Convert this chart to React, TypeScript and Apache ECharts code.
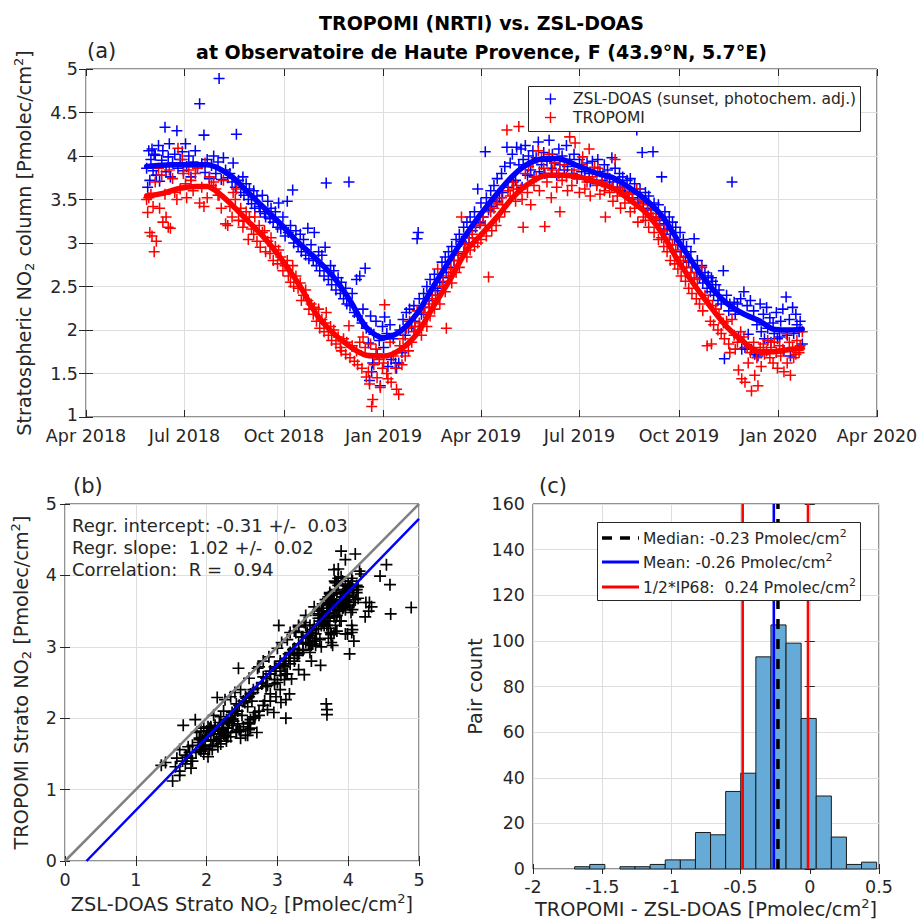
import React, { useEffect, useRef } from 'react';
import * as echarts from 'echarts';

// ---------- Data: collocated daily pairs [day since 2018-04-01, ZSL-DOAS, TROPOMI] ----------
const summer2018 = [
  [56,3.86,3.50],[57,3.64,3.35],[58,4.06,3.52],[59,3.72,3.12],[60,3.96,3.56],[61,4.08,3.08],[62,3.83,3.42],[63,4.02,2.90],
  [64,4.01,3.70],[65,3.78,3.02],[67,4.12,3.86],[68,3.71,3.40],[70,3.95,3.78],[71,4.06,3.24],[73,4.33,3.56],[74,3.82,3.30],
  [76,3.99,3.18],[77,4.14,3.84],[78,3.76,3.17],[80,3.92,3.74],[82,4.02,3.58],[84,4.29,3.50],[85,3.86,4.09],[87,3.96,3.62],
  [89,4.05,3.96],[90,3.83,3.80],[92,4.14,3.68],[93,3.88,3.52],[95,4.00,3.84],[97,3.76,3.72],[99,3.93,3.60],[101,4.06,3.80],
  [103,3.86,3.86],[105,4.60,3.46],[107,3.91,3.64],[109,4.24,3.42],[110,3.81,3.92],[112,3.96,3.52],[114,3.74,3.76],[116,3.89,3.66],
  [118,4.00,3.70],[120,3.80,3.62],[122,3.93,3.55],[123,4.89,3.55],[125,3.73,3.40],[127,3.98,3.72],[129,3.84,3.22],[131,3.75,3.20],
];
const autumn2018 = [
  [133,3.80,3.42],[135,3.70,3.30],[136,3.92,3.58],[138,3.64,3.50],[139,4.25,3.62],[141,3.72,3.26],[143,3.58,3.40],[145,3.76,3.18],
  [146,3.55,3.25],[148,3.68,3.36],[150,3.50,3.04],[151,3.62,3.30],[153,3.45,3.16],[155,3.60,3.10],[156,3.40,3.30],[158,3.54,3.02],
  [160,3.42,3.20],[161,3.36,2.95],[163,3.55,3.12],[165,3.34,3.14],[166,3.30,2.90],[168,3.48,3.02],[170,3.28,2.88],[171,3.40,3.06],
  [173,3.24,2.80],[175,3.36,2.96],[177,3.18,2.76],[178,3.46,2.92],[180,3.16,2.84],[182,3.30,2.68],[184,3.08,2.74],[186,3.48,2.80],
  [187,3.12,2.62],[189,3.20,2.55],[191,3.61,2.74],[192,3.00,2.50],[194,3.14,2.62],[196,2.96,2.48],[198,3.10,2.54],[199,2.90,2.34],
  [201,3.04,2.40],[203,2.86,2.46],[205,3.17,2.34],[206,2.82,2.24],[208,2.98,2.30],[210,2.80,2.18],[211,3.12,2.26],[213,2.74,2.10],
  [215,2.90,2.24],[216,2.68,2.02],[218,2.86,2.12],[220,2.62,1.98],[221,2.95,2.08],[222,3.69,2.20],[224,2.58,1.94],[226,2.74,2.04],
  [227,2.52,1.88],[229,2.68,2.00],[231,2.46,1.84],[233,2.60,1.92],[235,2.42,1.80],[236,2.55,1.76],[238,2.36,1.90],[240,2.48,1.72],
  [241,2.30,1.86],[243,3.70,2.05],[244,2.28,1.68],[246,2.42,1.82],[248,2.20,1.64],[250,2.58,1.76],[251,2.16,1.60],[253,2.62,1.86],
  [255,2.08,1.56],[256,2.24,1.92],[258,2.71,1.80],[259,2.02,1.46],
];
const winter2019 = [
  [261,1.85,1.52],[262,1.42,1.38],[263,2.16,1.84],[264,1.52,1.12],[265,1.62,1.20],[266,1.95,1.60],[268,2.10,1.78],[269,1.72,1.45],
  [271,1.88,1.66],[272,1.36,1.34],[274,2.04,1.56],[275,1.80,1.62],[276,2.15,2.29],[278,1.96,1.50],[279,1.58,1.44],[281,2.06,1.86],
  [282,1.66,1.40],[284,1.90,1.70],[286,1.62,1.56],[287,1.56,1.32],[289,1.62,1.26],[290,2.00,1.82],[292,1.74,1.60],[293,2.12,1.90],
  [295,1.94,1.70],[296,2.20,2.02],[298,2.02,1.76],[299,2.24,2.10],
];
const spring2019 = [
  [301,2.04,1.86],[303,2.28,1.98],[304,2.10,2.04],[306,3.05,2.22],[307,3.12,2.00],[308,2.36,2.08],[310,2.18,1.94],[312,2.42,2.20],
  [313,2.26,2.26],[315,2.50,2.04],[317,2.34,2.30],[318,2.58,2.16],[320,2.40,2.36],[322,2.64,2.24],[323,2.48,2.40],[325,2.45,2.70],
  [327,2.55,2.30],[329,2.78,2.50],[330,2.60,2.56],[332,2.84,2.44],[333,2.66,2.02],[335,2.90,2.62],[337,2.72,2.70],[338,2.96,2.54],
  [340,2.80,2.80],[342,3.04,2.66],[344,2.88,2.86],[345,3.10,2.72],[347,3.02,3.30],[349,3.18,2.90],[350,3.00,2.98],[352,3.24,2.84],
  [354,3.06,3.06],[355,3.30,2.92],[357,3.14,3.10],[359,3.36,2.96],[360,3.18,3.20],[362,3.62,3.00],[364,3.24,3.22],[365,3.46,3.04],
  [367,3.30,3.30],[369,4.05,3.20],[370,3.52,3.08],[372,3.38,2.61],[374,3.60,3.36],[375,3.42,3.14],[377,3.66,3.40],[379,3.48,3.20],
  [380,3.74,3.46],[382,3.52,3.30],[384,3.80,3.52],[385,3.58,3.44],[387,3.88,3.36],[389,4.10,4.30],[390,3.64,3.60],[392,3.92,3.54],
  [394,4.02,3.70],[395,3.70,3.62],
];
const summer2019 = [
  [397,3.72,3.48],[398,4.10,3.66],[400,3.90,4.34],[402,4.08,3.62],[403,3.64,3.50],[404,3.96,3.18],[406,4.12,3.80],[408,3.78,3.58],
  [409,4.00,3.88],[411,3.84,3.44],[413,4.06,3.92],[414,3.76,3.66],[416,3.98,3.76],[418,4.16,4.06],[419,3.82,3.60],[421,3.90,3.98],
  [423,4.04,3.86],[424,3.80,3.19],[426,3.94,3.70],[428,4.18,4.02],[430,3.86,3.52],[431,4.02,3.84],[433,3.92,3.92],[435,3.78,3.64],
  [437,4.08,3.80],[438,3.90,3.36],[440,4.00,3.72],[442,3.84,3.90],[444,4.12,3.76],[445,3.88,3.60],[447,3.96,4.22],[449,3.80,3.66],
  [451,4.02,3.84],[452,4.54,4.15],[454,3.74,3.74],[456,3.96,3.58],[458,3.82,3.90],[459,4.45,3.99],[461,3.76,3.62],[463,3.92,3.70],
  [465,3.80,4.08],[466,3.70,3.54],[468,3.94,3.76],[470,4.59,3.87],[472,3.68,3.66],[473,3.96,3.86],[475,3.82,3.56],[477,3.72,3.70],
  [479,3.90,3.60],[480,3.66,3.30],[482,3.84,3.76],[484,3.74,3.58],[486,3.98,3.64],[487,3.70,3.48],[489,3.86,3.96],[491,3.64,3.54],
  [493,3.80,3.62],[494,3.60,3.40],[496,3.76,3.64],[498,3.58,3.46],[500,3.72,3.58],
];
const autumn2019 = [
  [502,3.58,3.52],[503,3.74,3.36],[505,3.52,3.56],[507,3.68,3.40],[509,4.30,3.62],[510,3.50,3.24],[512,3.62,3.50],[514,4.04,3.48],
  [515,3.46,3.30],[517,3.58,3.26],[519,3.40,3.44],[520,3.54,3.18],[522,3.38,3.34],[524,4.05,3.30],[525,3.46,3.12],[527,3.30,3.28],
  [529,3.44,3.04],[530,3.26,3.20],[532,3.76,3.06],[534,3.22,2.96],[535,3.36,3.14],[537,3.16,2.90],[539,3.30,3.04],[540,3.10,2.80],
  [542,3.24,2.98],[544,3.04,2.76],[545,3.18,2.92],[547,2.98,2.70],[549,3.12,2.84],[550,2.90,2.62],[552,3.04,2.80],[554,2.84,2.56],
  [555,2.96,2.72],[557,2.78,2.48],[559,2.90,2.66],[560,2.72,2.42],[562,3.05,2.60],[564,2.66,2.36],[565,2.80,2.58],[567,2.60,2.30],
  [569,2.74,2.72],[570,2.54,2.22],[572,2.66,2.40],[574,2.48,1.82],[575,2.62,2.34],[577,2.44,2.10],[578,2.60,1.84],[579,2.56,2.28],
  [580,2.40,2.06],[582,2.52,2.24],[584,2.34,2.00],[585,2.46,2.18],[587,2.30,1.96],[589,2.68,2.08],[590,1.67,1.90],[592,2.40,2.10],
  [594,2.22,1.84],[595,2.30,1.74],[597,3.70,2.12],[599,2.32,1.94],[600,2.18,1.78],
];
const winter2020 = [
  [602,2.30,1.86],[603,1.92,1.54],[605,2.36,1.98],[606,1.78,1.44],[608,2.44,1.92],[609,1.80,1.40],[611,2.28,1.80],[612,1.95,1.62],
  [614,2.34,1.74],[615,1.78,1.30],[617,2.22,1.86],[618,1.72,1.48],[620,2.06,1.68],[621,1.70,1.36],[623,2.30,1.80],[624,1.98,1.58],
  [626,2.18,1.84],[627,1.90,1.72],[629,2.26,1.76],[630,2.02,1.88],[632,2.14,1.68],[633,1.86,1.80],[635,2.08,1.62],[636,1.96,1.86],
  [638,2.20,1.74],[639,1.90,1.56],[641,1.92,1.82],[642,2.10,1.70],[644,2.24,1.78],[645,1.76,1.52],[647,2.38,1.96],[648,1.94,1.62],
  [650,2.12,1.86],[651,1.70,1.48],[653,2.26,1.80],[654,1.96,1.68],[656,2.18,1.72],[657,2.06,1.88],[659,1.98,1.74],[660,2.10,1.82],
  [662,1.84,1.98],
];

// Running means [day, value]
const zslRunningMean = [
  [56,3.88],[80,3.90],[112,3.90],[133,3.78],[149,3.59],[164,3.41],[179,3.23],[195,3.02],[210,2.85],[228,2.62],[244,2.34],
  [259,2.03],[275,1.91],[290,1.98],[306,2.19],[321,2.50],[336,2.80],[352,3.11],[364,3.32],[380,3.57],[395,3.78],[410,3.92],
  [426,3.97],[435,3.97],[456,3.88],[472,3.80],[487,3.75],[503,3.63],[518,3.49],[533,3.30],[546,3.05],[561,2.77],[577,2.50],
  [592,2.31],[607,2.19],[623,2.10],[635,2.01],[647,2.00],[662,2.01],
];
const tropomiRunningMean = [
  [56,3.54],[71,3.57],[87,3.63],[102,3.65],[112,3.65],[121,3.59],[133,3.46],[149,3.26],[164,3.07],[179,2.84],[198,2.50],
  [213,2.18],[228,1.97],[244,1.81],[259,1.71],[275,1.70],[290,1.77],[306,1.96],[321,2.27],[336,2.57],[352,2.92],[364,3.08],
  [380,3.30],[395,3.53],[410,3.69],[426,3.78],[441,3.78],[456,3.76],[472,3.70],[487,3.63],[503,3.49],[518,3.34],[533,3.10],
  [546,2.82],[561,2.54],[577,2.27],[592,2.04],[607,1.87],[623,1.75],[635,1.75],[647,1.77],[662,1.79],
];

// Time axis ticks
const quarterDates = ['2018-04-01','2018-07-01','2018-10-01','2019-01-01','2019-04-01','2019-07-01','2019-10-01','2020-01-01','2020-04-01'];
const quarterLabels = ['Apr 2018','Jul 2018','Oct 2018','Jan 2019','Apr 2019','Jul 2019','Oct 2019','Jan 2020','Apr 2020'];

// Regression (b)
const regIntercept = -0.31;
const regSlope = 1.02;
const oneToOneRange = [0, 5];

// Histogram (c)
const histFirstEdge = -1.699;
const histBinWidth = 0.1091;
const histCounts = [1, 2, 0, 1, 1, 2, 4, 4, 16, 15, 34, 42, 93, 107, 99, 66, 32, 14, 2, 3];
const medianDiff = -0.23;
const meanDiff = -0.26;
const ip68Bounds = [-0.485, -0.013];

// ---------- helpers ----------
const AX = '#262626';
const GRIDC = '#dedede';
const FONT = 'DejaVu Sans';
const PLUS = 'path://M0,4.3H10V5.7H0Z M4.3,0H5.7V10H4.3Z';
const NAME_SIZE = 19.3;
const TICK_SIZE = 17.5;

const scriptRich = (base: number, color: string) => ({
  sup: { fontSize: Math.round(base * 0.68), verticalAlign: 'top', color, fontFamily: FONT },
  sub: { fontSize: Math.round(base * 0.68), verticalAlign: 'bottom', color, fontFamily: FONT },
});

const dayZero = Date.parse(quarterDates[0]);
const quarterDays = quarterDates.map((d) => Math.round((Date.parse(d) - dayZero) / 86400000));

const collocations = [...summer2018, ...autumn2018, ...winter2019, ...spring2019, ...summer2019, ...autumn2019, ...winter2020];

function dupAxis(gridIndex: number, position: string, min: number, max: number, interval: number | null, tickLen: number, custom?: number[]) {
  const ax: any = {
    gridIndex, type: 'value', position, min, max,
    axisLine: { show: false },
    axisTick: { show: true, inside: true, length: tickLen, lineStyle: { color: AX, width: 1 } },
    axisLabel: { show: false },
    splitLine: { show: false },
  };
  if (interval !== null) ax.interval = interval;
  if (custom) { ax.axisTick.customValues = custom; ax.axisLabel.customValues = custom; }
  return ax;
}

function mainAxis(gridIndex: number, position: string, min: number, max: number, interval: number | null, tickLen: number, name: string, nameGap: number, margin: number, extra: any = {}) {
  const ax: any = {
    gridIndex, type: 'value', position, min, max,
    name, nameLocation: 'middle', nameGap,
    nameTextStyle: { fontSize: NAME_SIZE, color: AX, fontFamily: FONT, lineHeight: 24, rich: scriptRich(NAME_SIZE, AX) },
    axisLine: { show: false },
    axisTick: { show: true, inside: true, length: tickLen, lineStyle: { color: AX, width: 1 } },
    axisLabel: { color: AX, fontSize: TICK_SIZE, margin, fontFamily: FONT, lineHeight: 16 },
    splitLine: { show: true, lineStyle: { color: GRIDC, width: 1 } },
  };
  if (interval !== null) ax.interval = interval;
  if (extra.custom) {
    ax.axisTick.customValues = extra.custom;
    ax.axisLabel.customValues = extra.custom;
  }
  if (extra.formatter) ax.axisLabel.formatter = extra.formatter;
  if (extra.rich) ax.axisLabel.rich = extra.rich;
  return ax;
}

function txt(x: number, y: number, text: string, fontSize: number, align = 'left', weight = 'normal', color = AX, lineHeight?: number) {
  const style: any = {
    text, fill: color, fontSize, fontFamily: FONT, fontWeight: weight,
    align, textAlign: align, verticalAlign: 'middle', textVerticalAlign: 'middle',
    rich: scriptRich(fontSize, color),
  };
  if (lineHeight) style.lineHeight = lineHeight;
  return { type: 'text', x, y, z: 100, silent: true, style };
}

function plusMark(cx: number, cy: number, color: string) {
  return [
    { type: 'line', z: 101, silent: true, shape: { x1: cx - 5.5, y1: cy, x2: cx + 5.5, y2: cy }, style: { stroke: color, lineWidth: 1.4 } },
    { type: 'line', z: 101, silent: true, shape: { x1: cx, y1: cy - 5.5, x2: cx, y2: cy + 5.5 }, style: { stroke: color, lineWidth: 1.4 } },
  ];
}

function buildOption() {
  const zslPoints = collocations.map((r) => [r[0], r[1]]);
  const tropPoints = collocations.map((r) => [r[0], r[2]]);
  const pairPoints = collocations.map((r) => [r[1], r[2]]);
  const regX0 = -regIntercept / regSlope;
  const regLine = [[regX0, 0], [oneToOneRange[1], regIntercept + regSlope * oneToOneRange[1]]];
  const histData = histCounts.map((c, i) => [histFirstEdge + i * histBinWidth, histFirstEdge + (i + 1) * histBinWidth, c]);
  const vline = (x: number) => [[x, 0], [x, 160]];

  const gridBase = { show: true, borderColor: AX, borderWidth: 1, backgroundColor: 'transparent', containLabel: false, outerBoundsMode: 'none' };

  return {
    animation: false,
    textStyle: { fontFamily: FONT },
    grid: [
      { ...gridBase, left: 86, top: 69, width: 791, height: 348 },
      { ...gridBase, left: 65, top: 504, width: 354, height: 357 },
      { ...gridBase, left: 533, top: 504, width: 346, height: 365 },
    ],
    xAxis: [
      mainAxis(0, 'bottom', quarterDays[0], quarterDays[quarterDays.length - 1], null, 7, '', 0, 11, {
        custom: quarterDays,
        formatter: (v: number) => quarterLabels[quarterDays.indexOf(Math.round(v))] ?? '',
      }),
      dupAxis(0, 'top', quarterDays[0], quarterDays[quarterDays.length - 1], null, 7, quarterDays),
      mainAxis(1, 'bottom', 0, 5, 1, 5, 'ZSL-DOAS Strato NO{sub|2} [Pmolec/cm{sup|2}]', 31, 11),
      dupAxis(1, 'top', 0, 5, 1, 5),
      mainAxis(2, 'bottom', -2, 0.5, 0.5, 5, 'TROPOMI - ZSL-DOAS [Pmolec/cm{sup|2}]', 28, 10),
      dupAxis(2, 'top', -2, 0.5, 0.5, 5),
    ],
    yAxis: [
      mainAxis(0, 'left', 1, 5, 0.5, 7, 'Stratospheric NO{sub|2} column [Pmolec/cm{sup|2}]', 50, 8, {
        formatter: (v: number) => (v === 1 ? '{lift|1}' : String(v)),
        rich: { lift: { fontSize: TICK_SIZE, color: AX, fontFamily: FONT, padding: [0, 0, 4, 0] } },
      }),
      dupAxis(0, 'right', 1, 5, 0.5, 7),
      mainAxis(1, 'left', 0, 5, 1, 5, 'TROPOMI Strato NO{sub|2} [Pmolec/cm{sup|2}]', 32, 8),
      dupAxis(1, 'right', 0, 5, 1, 5),
      mainAxis(2, 'left', 0, 160, 20, 5, 'Pair count', 46, 8),
      dupAxis(2, 'right', 0, 160, 20, 5),
    ],
    series: [
      { type: 'scatter', name: 'ZSL-DOAS', xAxisIndex: 0, yAxisIndex: 0, data: zslPoints, symbol: PLUS, symbolSize: 11, itemStyle: { color: '#0000ff', opacity: 1 }, silent: true },
      { type: 'scatter', name: 'TROPOMI', xAxisIndex: 0, yAxisIndex: 0, data: tropPoints, symbol: PLUS, symbolSize: 11, itemStyle: { color: '#ff0000', opacity: 1 }, silent: true },
      { type: 'line', xAxisIndex: 0, yAxisIndex: 0, data: zslRunningMean, showSymbol: false, symbol: 'none', smooth: 0.3, lineStyle: { color: '#0000ff', width: 5.5, cap: 'round', join: 'round' }, silent: true },
      { type: 'line', xAxisIndex: 0, yAxisIndex: 0, data: tropomiRunningMean, showSymbol: false, symbol: 'none', smooth: 0.3, lineStyle: { color: '#ff0000', width: 5.5, cap: 'round', join: 'round' }, silent: true },

      { type: 'scatter', xAxisIndex: 2, yAxisIndex: 2, data: pairPoints, symbol: PLUS, symbolSize: 12, itemStyle: { color: '#000000', opacity: 1 }, silent: true },
      { type: 'line', xAxisIndex: 2, yAxisIndex: 2, data: [[oneToOneRange[0], oneToOneRange[0]], [oneToOneRange[1], oneToOneRange[1]]], showSymbol: false, symbol: 'none', lineStyle: { color: '#808080', width: 2.5 }, silent: true },
      { type: 'line', xAxisIndex: 2, yAxisIndex: 2, data: regLine, showSymbol: false, symbol: 'none', lineStyle: { color: '#0000ff', width: 2.5 }, silent: true },

      {
        type: 'custom', xAxisIndex: 4, yAxisIndex: 4, data: histData, encode: { x: [0, 1], y: 2 }, silent: true,
        renderItem: (params: any, api: any) => {
          const c = api.value(2);
          if (!c) return { type: 'group', children: [] };
          const p0 = api.coord([api.value(0), c]);
          const p1 = api.coord([api.value(1), 0]);
          return {
            type: 'rect',
            shape: { x: p0[0], y: p0[1], width: p1[0] - p0[0], height: p1[1] - p0[1] },
            style: { fill: '#66aad7', stroke: '#1a1a1a', lineWidth: 1 },
          };
        },
      },
      { type: 'line', xAxisIndex: 4, yAxisIndex: 4, data: vline(ip68Bounds[0]), showSymbol: false, symbol: 'none', lineStyle: { color: '#ff0000', width: 2.6 }, silent: true },
      { type: 'line', xAxisIndex: 4, yAxisIndex: 4, data: vline(ip68Bounds[1]), showSymbol: false, symbol: 'none', lineStyle: { color: '#ff0000', width: 2.6 }, silent: true },
      { type: 'line', xAxisIndex: 4, yAxisIndex: 4, data: vline(meanDiff), showSymbol: false, symbol: 'none', lineStyle: { color: '#0000ff', width: 2.6 }, silent: true },
      { type: 'line', xAxisIndex: 4, yAxisIndex: 4, data: vline(medianDiff), showSymbol: false, symbol: 'none', lineStyle: { color: '#000000', width: 3.5, type: [10, 10] }, silent: true },
    ],
    graphic: [
      txt(481.5, 22.5, 'TROPOMI (NRTI) vs. ZSL-DOAS', 19, 'center', 'bold', '#000'),
      txt(481.5, 52, 'at Observatoire de Haute Provence, F (43.9°N, 5.7°E)', 19, 'center', 'bold', '#000'),
      txt(87, 51, '(a)', 21, 'left'),
      txt(73, 486, '(b)', 21, 'left'),
      txt(539, 486, '(c)', 21, 'left'),
      txt(72, 525, 'Regr. intercept: -0.31 +/-  0.03', 18),
      txt(72, 547, 'Regr. slope:  1.02 +/-  0.02', 18),
      txt(72, 569, 'Correlation:  R =  0.94', 18),
      // legend (a)
      { type: 'rect', z: 99, silent: true, shape: { x: 528.5, y: 86.5, width: 332, height: 45 }, style: { fill: '#ffffff', stroke: AX, lineWidth: 1 } },
      ...plusMark(550.5, 99, '#0000ff'),
      ...plusMark(550.5, 117.5, '#ff0000'),
      txt(573, 99, 'ZSL-DOAS (sunset, photochem. adj.)', 15.5),
      txt(573, 118, 'TROPOMI', 15.5),
      // legend (c)
      { type: 'rect', z: 99, silent: true, shape: { x: 597.5, y: 522.5, width: 263, height: 78 }, style: { fill: '#ffffff', stroke: AX, lineWidth: 1 } },
      { type: 'line', z: 101, silent: true, shape: { x1: 602, y1: 538, x2: 639, y2: 538 }, style: { stroke: '#000', lineWidth: 3.5, lineDash: [10, 8] } },
      { type: 'line', z: 101, silent: true, shape: { x1: 602, y1: 562, x2: 639, y2: 562 }, style: { stroke: '#0000ff', lineWidth: 3 } },
      { type: 'line', z: 101, silent: true, shape: { x1: 602, y1: 587, x2: 639, y2: 587 }, style: { stroke: '#ff0000', lineWidth: 3 } },
      txt(643, 539, 'Median: -0.23 Pmolec/cm{sup|2}', 15.5, 'left', 'normal', AX, 22),
      txt(643, 563, 'Mean: -0.26 Pmolec/cm{sup|2}', 15.5, 'left', 'normal', AX, 22),
      txt(643, 588, '1/2*IP68:  0.24 Pmolec/cm{sup|2}', 15.5, 'left', 'normal', AX, 22),
    ],
  };
}

export default function App() {
  const ref = useRef<HTMLDivElement>(null);
  useEffect(() => {
    if (!ref.current) return;
    const chart = echarts.init(ref.current, undefined, { renderer: 'svg' });
    chart.setOption(buildOption() as any);
    return () => chart.dispose();
  }, []);
  return (
    <div
      ref={ref}
      style={{ position: 'absolute', left: 0, top: 0, width: 919, height: 924, background: '#ffffff' }}
    />
  );
}
